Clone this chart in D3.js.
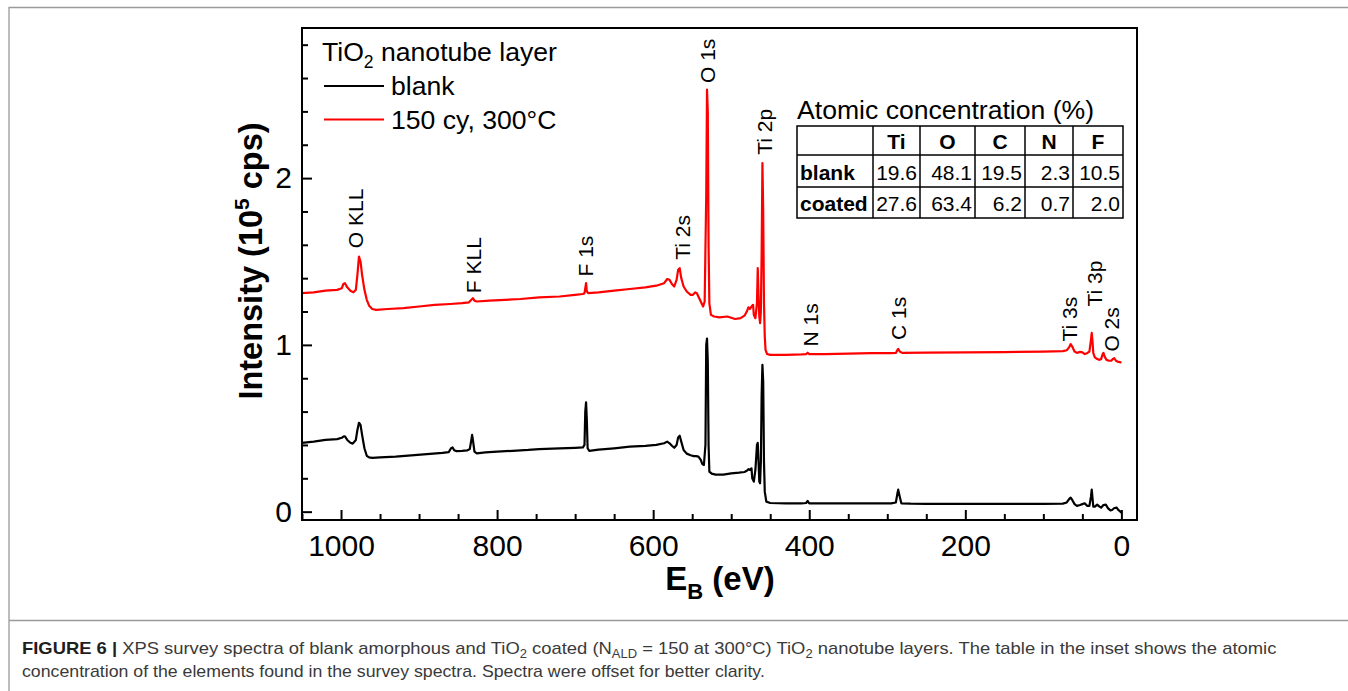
<!DOCTYPE html>
<html><head><meta charset="utf-8">
<script src="https://cdn.jsdelivr.net/npm/d3@7"></script>
<style>body{margin:0;background:#fff}svg{display:block}</style>
</head><body>
<svg id="c" width="1348" height="691"></svg>
<script>
// ---- data: [binding energy (eV), intensity (1e5 cps)] ----
const blankSpectrum = [
[1050,0.413],[1035,0.42],[1020,0.43],[1005,0.435],[999,0.443],[997,0.45],[995,0.452],[992,0.43],[988,0.413],[985,0.408],[981,0.43],[979,0.49],[977,0.533],[975,0.52],[973,0.46],[970,0.38],[967,0.335],[964,0.325],[960,0.322],[950,0.325],[930,0.33],[910,0.338],[890,0.345],[870,0.352],[862,0.357],[859,0.38],[857,0.385],[855,0.368],[852,0.363],[845,0.365],[838,0.368],[835,0.375],[833,0.43],[832,0.46],[831,0.43],[829,0.36],[826,0.35],[815,0.355],[800,0.36],[780,0.365],[760,0.37],[746,0.375],[720,0.38],[700,0.383],[690,0.385],[688,0.40],[687,0.60],[686,0.655],[685,0.55],[684,0.38],[682,0.365],[670,0.372],[650,0.38],[630,0.39],[610,0.395],[596,0.40],[586,0.41],[582,0.42],[579,0.41],[576,0.395],[573,0.383],[570,0.40],[568,0.445],[566,0.455],[564,0.42],[561,0.37],[557,0.348],[552,0.338],[548,0.333],[545,0.333],[542,0.33],[539,0.31],[537,0.285],[535,0.28],[533,0.40],[532,1.00],[531,1.037],[530,0.90],[529,0.40],[528,0.24],[525,0.228],[520,0.222],[510,0.222],[500,0.23],[490,0.234],[483,0.238],[480,0.245],[478,0.255],[476,0.25],[474,0.26],[473,0.2],[471,0.18],[469,0.25],[467,0.40],[466,0.413],[465,0.30],[464,0.18],[463,0.17],[462,0.30],[461,0.70],[460,0.88],[459,0.78],[458,0.30],[457,0.12],[455,0.06],[450,0.052],[430,0.05],[410,0.05],[404,0.052],[402,0.064],[400,0.05],[380,0.05],[350,0.05],[320,0.05],[295,0.05],[289,0.055],[287,0.11],[286,0.132],[284,0.09],[282,0.05],[270,0.048],[250,0.047],[200,0.047],[150,0.047],[100,0.047],[75,0.048],[70,0.055],[67,0.075],[65,0.084],[63,0.07],[60,0.045],[57,0.035],[53,0.04],[50,0.045],[47,0.05],[44,0.035],[41,0.035],[39,0.09],[38,0.132],[37,0.08],[36,0.03],[34,0.03],[31,0.042],[28,0.03],[26,0.024],[23,0.04],[20,0.042],[17,0.02],[14,0.008],[12,0.01],[9,0.022],[6,0.024],[4,0.01],[2,0.003],[0,-0.006]
];
const coatedSpectrum = [
[1050,1.31],[1035,1.315],[1020,1.325],[1005,1.33],[999,1.34],[997,1.365],[995,1.37],[992,1.345],[988,1.325],[984,1.315],[981,1.33],[979,1.42],[977,1.53],[975,1.50],[973,1.42],[970,1.33],[967,1.27],[964,1.235],[960,1.215],[955,1.21],[940,1.215],[920,1.22],[900,1.23],[880,1.24],[860,1.245],[845,1.25],[836,1.255],[833,1.27],[831,1.28],[829,1.265],[826,1.26],[810,1.265],[790,1.27],[770,1.275],[746,1.285],[720,1.29],[700,1.30],[690,1.305],[688,1.31],[686,1.37],[685,1.32],[683,1.31],[670,1.315],[650,1.325],[630,1.335],[610,1.345],[596,1.355],[586,1.37],[582,1.395],[579,1.39],[576,1.365],[573,1.35],[570,1.39],[568,1.45],[566,1.46],[564,1.40],[561,1.35],[557,1.32],[552,1.30],[549,1.30],[546,1.315],[544,1.31],[541,1.28],[538,1.25],[536,1.23],[534,1.26],[532,1.90],[531,2.53],[530,2.40],[529,1.60],[528,1.25],[526,1.18],[522,1.17],[515,1.165],[505,1.17],[495,1.155],[488,1.16],[483,1.175],[480,1.20],[478,1.225],[476,1.215],[474,1.23],[472,1.24],[471,1.18],[469,1.16],[467,1.25],[466,1.46],[465,1.30],[464,1.17],[463,1.13],[462,1.20],[461,1.55],[460,2.09],[459,1.80],[458,1.25],[457,1.05],[456,0.97],[454,0.945],[450,0.94],[430,0.94],[410,0.943],[404,0.945],[402,0.953],[400,0.945],[380,0.945],[350,0.948],[320,0.95],[295,0.95],[289,0.952],[287,0.97],[286,0.976],[284,0.96],[281,0.952],[250,0.953],[200,0.955],[150,0.957],[100,0.96],[75,0.963],[70,0.968],[67,0.985],[65,1.005],[63,0.99],[60,0.96],[57,0.952],[53,0.958],[50,0.955],[47,0.945],[44,0.95],[41,0.96],[39,1.03],[38,1.072],[37,1.02],[36,0.95],[34,0.925],[31,0.915],[28,0.91],[26,0.915],[24,0.945],[23,0.952],[21,0.925],[19,0.91],[16,0.905],[13,0.905],[11,0.915],[9,0.92],[7,0.905],[5,0.9],[2,0.897],[0,0.893]
];
const xMajorTicks = [1000, 800, 600, 400, 200, 0];
const xMinorTicks = [1050,950,900,850,750,700,650,550,500,450,350,300,250,150,100,50];
const yMajorTicks = [0, 1, 2];
const yMinorTicks = [0.2,0.4,0.6,0.8,1.2,1.4,1.6,1.8,2.2,2.4,2.6,2.8];
// peak annotations: label, energy (eV), intensity level of label foot
const peakNames  = ["O KLL","F KLL","F 1s","Ti 2s","O 1s","Ti 2p","N 1s","C 1s","Ti 3s","Ti 3p","O 2s"];
const peakEnergy = [981, 830, 687, 563, 530, 457, 398, 286, 66, 34, 13];
const peakLevel  = [1.58, 1.31, 1.41, 1.51, 2.57, 2.14, 0.99, 1.03, 1.02, 1.23, 0.96];
const seriesNames = ["blank", "150 cy, 300°C"];
const seriesColors = ["#000000", "#ff0000"];
const concElements = ["Ti","O","C","N","F"];
const concRowNames = ["blank","coated"];
const concBlank  = [19.6, 48.1, 19.5, 2.3, 10.5];
const concCoated = [27.6, 63.4, 6.2, 0.7, 2.0];

// ---- layout ----
const FONT = "Liberation Sans, Arial, Helvetica, sans-serif";
const svg = d3.select("#c");
const L = 302, R = 1137, T = 28, B = 520;
const x = d3.scaleLinear().domain([1050, -20]).range([L, R]);
const y = d3.scaleLinear().domain([-0.05, 2.9]).range([B, T]);

// outer frame of figure
const frame = svg.append("g").attr("stroke", "#9a9a9a").attr("stroke-width", 1.3).attr("fill","none");
frame.append("path").attr("d", "M9,691 L9,7.5 L1348,7.5");
frame.append("path").attr("d", "M9,620.5 L1348,620.5");

// axes
const gx = svg.append("g").attr("transform", `translate(0,${B})`);
gx.call(d3.axisBottom(x).tickValues(xMajorTicks).tickSize(-10).tickPadding(15).tickFormat(d3.format("d")));
const gxm = svg.append("g").attr("transform", `translate(0,${B})`);
gxm.call(d3.axisBottom(x).tickValues(xMinorTicks).tickSize(-6).tickFormat(""));
const gy = svg.append("g").attr("transform", `translate(${L},0)`);
gy.call(d3.axisLeft(y).tickValues(yMajorTicks).tickSize(-10).tickPadding(10).tickFormat(d3.format("d")));
const gym = svg.append("g").attr("transform", `translate(${L},0)`);
gym.call(d3.axisLeft(y).tickValues(yMinorTicks).tickSize(-6).tickFormat(""));
[gx, gxm, gy, gym].forEach(g => {
  g.select(".domain").remove();
  g.selectAll("line").attr("stroke", "#000").attr("stroke-width", 2);
  g.selectAll("text").attr("font-family", FONT).attr("font-size", 30).attr("fill", "#000");
});

// spectra
const line = d3.line().x(d => x(d[0])).y(d => y(d[1]));
[blankSpectrum, coatedSpectrum].forEach((s, i) => {
  svg.append("path").datum(s).attr("d", line).attr("fill", "none")
    .attr("stroke", seriesColors[i]).attr("stroke-width", 2.2).attr("stroke-linejoin", "round");
});

svg.append("rect").attr("x", L).attr("y", T).attr("width", R - L).attr("height", B - T)
  .attr("fill", "none").attr("stroke", "#000").attr("stroke-width", 2);

// peak labels
peakNames.forEach((n, i) => {
  svg.append("text").attr("transform", `translate(${x(peakEnergy[i])},${y(peakLevel[i])}) rotate(-90)`)
    .attr("dy", "0.36em").attr("font-family", FONT).attr("font-size", 21).attr("fill", "#000").text(n);
});

// axis titles
const yt = svg.append("text").attr("transform", "translate(262,261) rotate(-90)")
  .attr("text-anchor", "middle").attr("font-family", FONT).attr("font-size", 32.5).attr("font-weight", "bold");
yt.append("tspan").text("Intensity (10");
yt.append("tspan").attr("font-size", 21).attr("dy", -13).text("5");
yt.append("tspan").attr("dy", 13).text(" cps)");
const xt = svg.append("text").attr("x", 720).attr("y", 590)
  .attr("text-anchor", "middle").attr("font-family", FONT).attr("font-size", 33).attr("font-weight", "bold");
xt.append("tspan").text("E");
xt.append("tspan").attr("font-size", 22).attr("dy", 9).text("B");
xt.append("tspan").attr("dy", -9).text(" (eV)");

// legend
const lg = svg.append("g").attr("font-family", FONT).attr("font-size", 26.6);
const lt = lg.append("text").attr("x", 322).attr("y", 61);
lt.append("tspan").text("TiO");
lt.append("tspan").attr("font-size", 17.5).attr("dy", 7).text("2");
lt.append("tspan").attr("dy", -7).text(" nanotube layer");
seriesNames.forEach((n, i) => {
  const yy = 86 + i * 33.5;
  lg.append("line").attr("x1", 324).attr("x2", 384).attr("y1", yy).attr("y2", yy)
    .attr("stroke", seriesColors[i]).attr("stroke-width", 2.2);
  lg.append("text").attr("x", 391).attr("y", yy + 9).text(n);
});

// concentration table
const tg = svg.append("g").attr("font-family", FONT);
tg.append("text").attr("x", 797).attr("y", 119).attr("font-size", 26.6).text("Atomic concentration (%)");
const colX = [797, 873, 920, 975, 1025, 1073, 1123];
const rowY = [126, 155, 187, 218];
tg.append("rect").attr("x", colX[0]).attr("y", rowY[0]).attr("width", colX[6]-colX[0]).attr("height", rowY[3]-rowY[0])
  .attr("fill", "none").attr("stroke", "#000").attr("stroke-width", 1.5);
colX.slice(1, 6).forEach(cx => tg.append("line").attr("x1", cx).attr("x2", cx).attr("y1", rowY[0]).attr("y2", rowY[3]).attr("stroke", "#000").attr("stroke-width", 1.5));
rowY.slice(1, 3).forEach(ry => tg.append("line").attr("x1", colX[0]).attr("x2", colX[6]).attr("y1", ry).attr("y2", ry).attr("stroke", "#000").attr("stroke-width", 1.5));
concElements.forEach((e, j) => {
  tg.append("text").attr("x", (colX[j+1] + colX[j+2]) / 2).attr("y", rowY[1] - 6).attr("text-anchor", "middle")
    .attr("font-size", 21).attr("font-weight", "bold").text(e);
});
const fmt = d3.format(".1f");
[concBlank, concCoated].forEach((row, r) => {
  const by = rowY[r + 2] - 7;
  tg.append("text").attr("x", colX[0] + 3).attr("y", by).attr("font-size", 21).attr("font-weight", "bold").text(concRowNames[r]);
  row.forEach((v, j) => {
    tg.append("text").attr("x", colX[j + 2] - 3).attr("y", by).attr("text-anchor", "end").attr("font-size", 21).text(fmt(v));
  });
});

// caption
function captionLine(yPos, parts, target) {
  const t = svg.append("text").attr("x", 0).attr("y", 0).attr("font-family", FONT).attr("font-size", 17).attr("fill", "#3a3a3a");
  parts.forEach(p => {
    const s = t.append("tspan").text(p.t);
    if (p.b) s.attr("font-weight", "bold").attr("fill", "#1e1e1e");
    if (p.sub) s.attr("font-size", 12).attr("dy", 4);
    if (p.up) s.attr("dy", -4);
  });
  const w = t.node().getComputedTextLength();
  t.attr("transform", `translate(22,${yPos}) scale(${target / w},1)`);
}
captionLine(654, [
  {t: "FIGURE 6 |", b: true},
  {t: " XPS survey spectra of blank amorphous and TiO"},
  {t: "2", sub: true}, {t: " coated (N", up: true}, {t: "ALD", sub: true},
  {t: " = 150 at 300°C) TiO", up: true}, {t: "2", sub: true},
  {t: " nanotube layers. The table in the inset shows the atomic", up: true}
], 1255);
captionLine(677, [{t: "concentration of the elements found in the survey spectra. Spectra were offset for better clarity."}], 743);
</script>
</body></html>
